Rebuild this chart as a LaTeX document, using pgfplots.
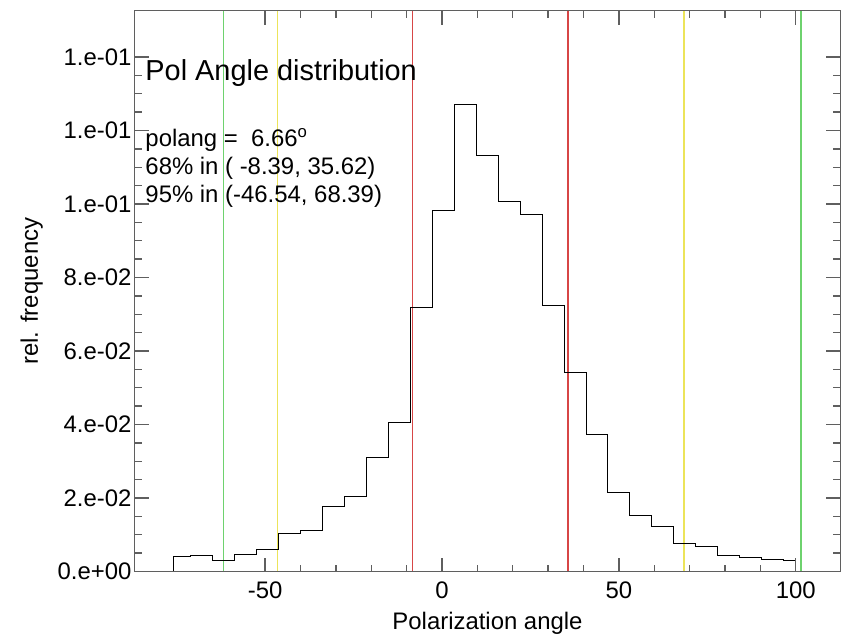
\documentclass[border=0pt]{standalone}
\usepackage{fontspec}
\setmainfont{Liberation Sans}
\usepackage{pgfplots}
\pgfplotsset{compat=1.18}
\definecolor{vred}{RGB}{215,70,70}
\definecolor{vyel}{RGB}{236,228,90}
\definecolor{vgrn}{RGB}{110,210,110}
\definecolor{framec}{RGB}{95,95,95}
\pgfplotstableread{
x y
-75.9 0
-75.9 0.0040
-71.0 0.0043
-64.8 0.0031
-58.6 0.0045
-52.4 0.0060
-46.2 0.0104
-40.0 0.0111
-33.8 0.0176
-27.6 0.0204
-21.4 0.0310
-15.2 0.0406
-9.0 0.0718
-2.8 0.0982
3.4 0.1271
9.6 0.1133
15.9 0.1006
22.1 0.0970
28.3 0.0725
34.5 0.0541
40.7 0.0373
46.9 0.0214
53.1 0.0152
59.3 0.0122
65.5 0.0075
71.7 0.0068
77.9 0.0043
84.1 0.0039
90.3 0.0034
96.5 0.0031
100.0 0.0031
100.0 0
}\histdata
\begin{document}
\begin{tikzpicture}
\begin{axis}[
  at={(0,0)}, anchor=south west,
  scale only axis, width=705bp, height=560.5bp,
  xmin=-86.8, xmax=112.5, ymin=0, ymax=0.1525,
  xtick={-50,0,50,100}, xticklabels={-50,0,50,100},
  minor x tick num=4,
  ytick={0,0.02,0.04,0.06,0.08,0.10,0.12,0.14},
  yticklabels={0.e+00,2.e-02,4.e-02,6.e-02,8.e-02,1.e-01,1.e-01,1.e-01},
  minor y tick num=3,
  scaled y ticks=false, scaled x ticks=false,
  tick align=inside, xtick pos=both, ytick pos=both,
  major tick length=14bp, minor tick length=7bp,
  axis line style={framec, line width=1bp},
  every tick/.append style={framec, line width=1.4bp},
  tick label style={font=\fontsize{24}{28}\selectfont, text=black},
  xticklabel style={yshift=-7bp},
  label style={font=\fontsize{24}{28}\selectfont},
  xlabel={Polarization angle},
  ylabel={rel. frequency},
  xlabel style={at={(axis description cs:0.5,-0.1026)}, anchor=base},
  ylabel style={at={(axis description cs:-0.1376,0.5)}, anchor=base},
  axis on top,
]
\addplot[vgrn, line width=1.6bp] coordinates {(-61.8,0) (-61.8,0.1525)};
\addplot[vgrn, line width=1.6bp] coordinates {(101.4,0) (101.4,0.1525)};
\addplot[vyel, line width=1.6bp] coordinates {(-46.54,0) (-46.54,0.1525)};
\addplot[vyel, line width=1.6bp] coordinates {(68.39,0) (68.39,0.1525)};
\addplot[vred, line width=1.3bp] coordinates {(-8.39,0) (-8.39,0.1525)};
\addplot[vred, line width=1.3bp] coordinates {(35.62,0) (35.62,0.1525)};
\addplot[black, line width=1bp, const plot] table[x=x, y=y] {\histdata};
\node[anchor=base west, inner sep=0pt, font=\fontsize{29}{34}\selectfont] at (axis cs:-83.9,0.1337) {Pol Angle distribution};
\node[anchor=base west, inner sep=0pt, font=\fontsize{24}{28}\selectfont] at (axis cs:-83.9,0.1156) {polang =\ \ 6.66\textsuperscript{o}};
\node[anchor=base west, inner sep=0pt, font=\fontsize{24}{28}\selectfont] at (axis cs:-83.9,0.1079) {68\% in ( -8.39, 35.62)};
\node[anchor=base west, inner sep=0pt, font=\fontsize{24}{28}\selectfont] at (axis cs:-83.9,0.1004) {95\% in (-46.54, 68.39)};
\end{axis}
\path (-135bp,-63.5bp) rectangle (706bp,571.5bp);
\end{tikzpicture}
\end{document}
